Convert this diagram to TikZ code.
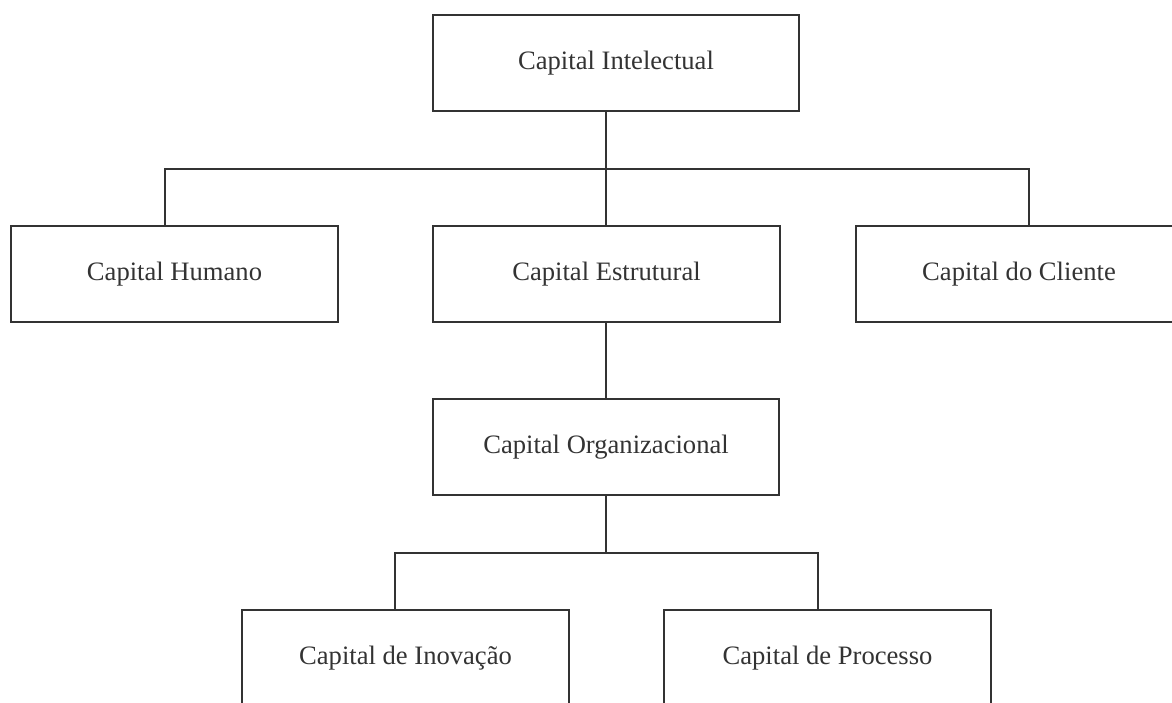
\documentclass[tikz,border=0pt]{standalone}
\usepackage{fontspec}
\setmainfont{Liberation Serif}
\usetikzlibrary{positioning}

\begin{document}
\begin{tikzpicture}[x=0.5pt, y=-0.5pt]
    % Define styles
    \tikzstyle{box}=[rectangle, draw=black!80, line width=1pt, inner sep=0pt, minimum height=48pt, text centered, font=\fontsize{13.3}{16}\selectfont, text=black!80]
    \tikzstyle{line}=[draw=black!80, line width=1pt]

    \useasboundingbox (0,0) rectangle (1172,702);

    % Boxes
    \node[box, minimum width=183pt] (ci) at (616,63) {Capital Intelectual};
    \node[box, minimum width=163.5pt] (hum) at (174.5,274) {Capital Humano};
    \node[box, minimum width=173.5pt] (est) at (606.5,274) {Capital Estrutural};
    \node[box, minimum width=163pt] (cli) at (1019,274) {Capital do Cliente};
    \node[box, minimum width=173pt] (org) at (606,447) {Capital Organizacional};
    \node[box, minimum width=163.5pt] (inov) at (405.5,658) {Capital de Inova\c{c}\~ao};
    \node[box, minimum width=163.5pt] (proc) at (827.5,658) {Capital de Processo};

    % Junctions
    \coordinate (busL) at (165,169);
    \coordinate (busR) at (1029,169);
    \coordinate (subL) at (395,553);
    \coordinate (subR) at (818,553);

    % Connections
    \draw[line] (org.north |- ci.south) -- (org.north |- est.north);
    \draw[line] (busL |- hum.north) -- (busL) -- (busR) -- (busR |- cli.north);
    \draw[line] (org.north |- est.south) -- (org.north);
    \draw[line] (org.south) -- (org.south |- subL);
    \draw[line] (subL |- inov.north) -- (subL) -- (subR) -- (subR |- proc.north);
\end{tikzpicture}
\end{document}
